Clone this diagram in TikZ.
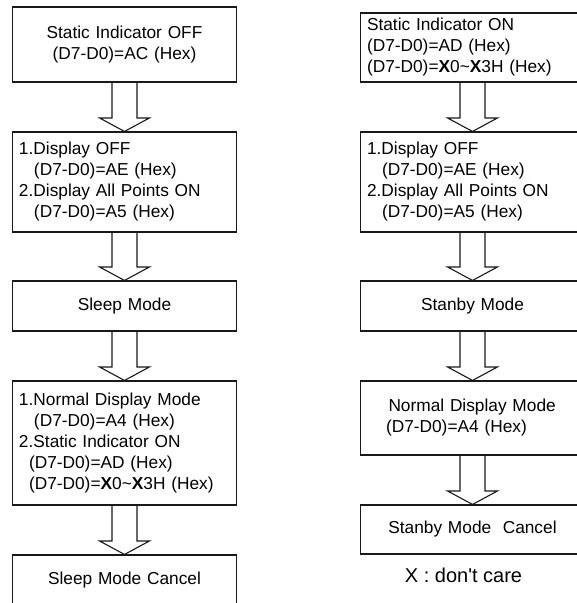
\documentclass[tikz,border=0pt]{standalone}
\usepackage{fontspec}
\setmainfont{Liberation Sans}[Ligatures=TeXOff]
\usetikzlibrary{calc}
\tikzset{
  box/.style={draw=black!90, line width=1.1pt, minimum width=224pt, text width=211pt,
    inner xsep=6.5pt, inner ysep=0pt, font=\fontsize{17.3}{21}\selectfont},
  cbox/.style={box, align=center},
  lbox/.style={box, align=left},
  arrowline/.style={draw=black!90, line width=1.1pt, line join=miter},
  note/.style={font=\fontsize{20}{24}\selectfont, inner sep=0pt}
}
\newcommand\blockarr[2]{%
  \draw[arrowline] ($(#1.south)+(-12.5,0)$) -- ($(#2.north)+(-12.5,-13.5)$)
    -- ($(#2.north)+(-25,-13.5)$) -- (#2.north) -- ($(#2.north)+(25,-13.5)$)
    -- ($(#2.north)+(12.5,-13.5)$) -- ($(#1.south)+(12.5,0)$);}
\begin{document}
\begin{tikzpicture}[x=1pt,y=-1pt]
\useasboundingbox (0,0) rectangle (577,603);
\clip (0,0) rectangle (577,603);
% left column
\node[cbox, minimum height=75pt] (L1) at (124.5,44.5) {Static Indicator OFF\\(D7-D0)=AC (Hex)};
\node[lbox, minimum height=100pt] (L2) at (124.5,182) {1.Display OFF\\\hspace*{15pt}(D7-D0)=AE (Hex)\\2.Display All Points ON\\\hspace*{15pt}(D7-D0)=A5 (Hex)};
\node[cbox, minimum height=50pt] (L3) at (124.5,306) {Sleep Mode};
\node[lbox, minimum height=124pt] (L4) at (124.5,443) {1.Normal Display Mode\\\hspace*{15pt}(D7-D0)=A4 (Hex)\\2.Static Indicator ON\\\hspace*{10pt}(D7-D0)=AD (Hex)\\\hspace*{10pt}(D7-D0)=\textbf{X}0\textasciitilde\textbf{X}3H (Hex)};
\node[cbox, minimum height=50pt] (L5) at (124.5,580) {Sleep Mode Cancel};
% right column
\node[lbox, minimum height=69pt] (R1) at (472.5,47.5) {Static Indicator ON\\(D7-D0)=AD (Hex)\\(D7-D0)=\textbf{X}0\textasciitilde\textbf{X}3H (Hex)};
\node[lbox, minimum height=100pt] (R2) at (472.5,182) {1.Display OFF\\\hspace*{15pt}(D7-D0)=AE (Hex)\\2.Display All Points ON\\\hspace*{15pt}(D7-D0)=A5 (Hex)};
\node[cbox, minimum height=50pt] (R3) at (472.5,306) {Stanby Mode};
\node[lbox, minimum height=74pt] (R4) at (472.5,418) {\hspace*{21.5pt}Normal Display Mode\\\hspace*{19pt}(D7-D0)=A4 (Hex)};
\node[cbox, minimum height=49pt] (R5) at (472.5,529.5) {Stanby Mode\ \ Cancel};
\node[note] (N) at (463.5,575) {X : don't care};
% arrows
\blockarr{L1}{L2}
\blockarr{L2}{L3}
\blockarr{L3}{L4}
\blockarr{L4}{L5}
\blockarr{R1}{R2}
\blockarr{R2}{R3}
\blockarr{R3}{R4}
\blockarr{R4}{R5}
\end{tikzpicture}
\end{document}
